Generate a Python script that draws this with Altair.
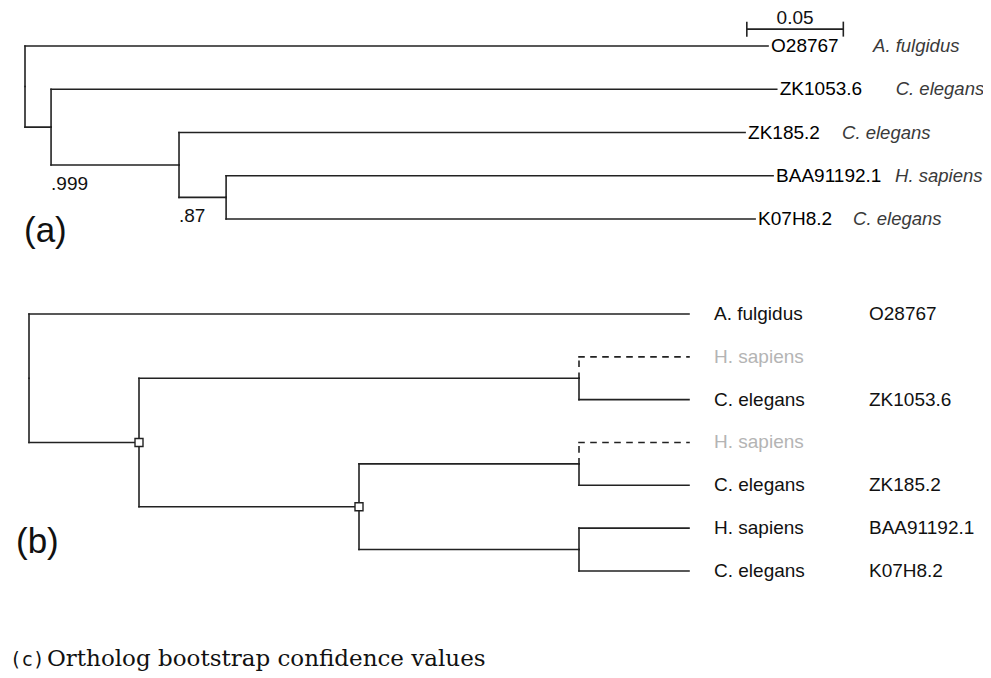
import altair as alt
import pandas as pd

# ---------------- data ----------------
# (a) phylogram: edges with branch lengths (substitutions per site)
a_parent = ["root", "root", "n1", "n1", "n2", "n2", "n3", "n3"]
a_child = ["O28767", "n1", "ZK1053.6", "n2", "ZK185.2", "n3", "BAA91192.1", "K07H8.2"]
a_length = [0.385, 0.0135, 0.376, 0.0663, 0.2933, 0.0244, 0.2834, 0.2741]
a_leaf_ids = ["O28767", "ZK1053.6", "ZK185.2", "BAA91192.1", "K07H8.2"]
a_leaf_species = ["A. fulgidus", "C. elegans", "C. elegans", "H. sapiens", "C. elegans"]
a_boot_nodes = ["n1", "n2"]
a_boot_values = [".999", ".87"]
a_scale_bar = 0.05

# (b) reconciled cladogram (depth in cladogram levels)
b_parent = ["root", "root", "A", "A", "D1", "D1", "B", "B", "D2", "D2", "D3", "D3"]
b_child = ["L0", "A", "D1", "B", "L1", "L2", "D2", "D3", "L3", "L4", "L5", "L6"]
b_inner_nodes = ["root", "A", "B", "D1", "D2", "D3"]
b_inner_depth = [0, 1, 3, 5, 5, 5]
b_leaves = ["L0", "L1", "L2", "L3", "L4", "L5", "L6"]
b_leaf_depth = 6
b_leaf_species = ["A. fulgidus", "H. sapiens", "C. elegans", "H. sapiens", "C. elegans", "H. sapiens", "C. elegans"]
b_leaf_ids = ["O28767", "", "ZK1053.6", "", "ZK185.2", "BAA91192.1", "K07H8.2"]
b_leaf_inferred = [False, True, False, True, False, False, False]
b_dup_nodes = ["A", "B"]

caption_tag = "(c)"
caption_text = "Ortholog bootstrap confidence values"

# ---------------- layout / style ----------------
W = 975
HA, HB, HC = 260, 340, 64
PX_PER_UNIT_A = 1930.0
ROOT_X_A = 17.0
ROW_A, ROW0_A = 43.25, 38.0
PX_PER_LEVEL_B = 110.0
ROOT_X_B = 21.0
ROW_B, ROW0_B = 42.83, 46.0
a_species_gap_px = [105, 119, 97, 122, 98]
a_scale_bar_x = 0.374
a_scale_bar_row = -0.39
LINE = "#222222"
SANS = "Liberation Sans"
FS = 19


def tree_layout(parents, children, depth, leaves):
    kids = {}
    for p, c in zip(parents, children):
        kids.setdefault(p, []).append(c)
    ypos = {leaf: i for i, leaf in enumerate(leaves)}

    def gy(n):
        if n not in ypos:
            ys = [gy(k) for k in kids[n]]
            ypos[n] = (min(ys) + max(ys)) / 2.0
        return ypos[n]

    for p in parents:
        gy(p)
    return ypos


def segments(parents, children, depth, ypos, dashed_set):
    rows = []
    for p, c in zip(parents, children):
        style = "dashed" if c in dashed_set else "solid"
        rows.append(dict(x=depth[p], x2=depth[p], y=ypos[p], y2=ypos[c], style=style))
        rows.append(dict(x=depth[p], x2=depth[c], y=ypos[c], y2=ypos[c], style=style))
    return pd.DataFrame(rows)


# ---- panel (a) computations
a_depth = {"root": 0.0}
for p, c, l in zip(a_parent, a_child, a_length):
    a_depth[c] = a_depth[p] + l
a_y = tree_layout(a_parent, a_child, a_depth, a_leaf_ids)
a_seg = segments(a_parent, a_child, a_depth, a_y, set())

a_leaf_df = pd.DataFrame({
    "id": a_leaf_ids,
    "species": a_leaf_species,
    "x": [a_depth[n] for n in a_leaf_ids],
    "xs": [a_depth[n] + g / PX_PER_UNIT_A for n, g in zip(a_leaf_ids, a_species_gap_px)],
    "y": [a_y[n] for n in a_leaf_ids],
})
# bootstrap label placed under the lower child branch of each node
a_kids = {}
for p, c in zip(a_parent, a_child):
    a_kids.setdefault(p, []).append(c)
a_boot_df = pd.DataFrame({
    "label": a_boot_values,
    "x": [a_depth[n] for n in a_boot_nodes],
    "y": [max(a_y[k] for k in a_kids[n]) for n in a_boot_nodes],
})
half_tick = 7.5 / ROW_A
a_bar_df = pd.DataFrame([
    dict(x=a_scale_bar_x, x2=a_scale_bar_x + a_scale_bar, y=a_scale_bar_row, y2=a_scale_bar_row),
    dict(x=a_scale_bar_x, x2=a_scale_bar_x, y=a_scale_bar_row - half_tick, y2=a_scale_bar_row + half_tick),
    dict(x=a_scale_bar_x + a_scale_bar, x2=a_scale_bar_x + a_scale_bar,
         y=a_scale_bar_row - half_tick, y2=a_scale_bar_row + half_tick),
])
a_bar_text = pd.DataFrame({"label": [str(a_scale_bar)], "x": [a_scale_bar_x + a_scale_bar / 2],
                           "y": [a_scale_bar_row]})

xsA = alt.Scale(domain=[-ROOT_X_A / PX_PER_UNIT_A, (W - ROOT_X_A) / PX_PER_UNIT_A], nice=False, zero=False)
ysA = alt.Scale(domain=[-ROW0_A / ROW_A, (HA - ROW0_A) / ROW_A], nice=False, zero=False, reverse=True)

dash_scale = alt.Scale(domain=["solid", "dashed"], range=[[1, 0], [5, 7]])


def seg_layer(df, xs, ys):
    return alt.Chart(df).mark_rule(strokeWidth=1.6, color=LINE, strokeCap="square").encode(
        x=alt.X("x:Q", scale=xs, axis=None), x2="x2:Q",
        y=alt.Y("y:Q", scale=ys, axis=None), y2="y2:Q",
        strokeDash=alt.StrokeDash("style:N", scale=dash_scale, legend=None),
    )


def text_mark(**kw):
    base = dict(align="left", baseline="middle", font=SANS, fontSize=FS, clip=True)
    base.update(kw)
    return base


a_lines = seg_layer(a_seg, xsA, ysA)
a_ids = alt.Chart(a_leaf_df).mark_text(**text_mark(dx=3, color="#000")).encode(
    x=alt.X("x:Q", scale=xsA, axis=None), y=alt.Y("y:Q", scale=ysA, axis=None), text="id:N")
a_spec = alt.Chart(a_leaf_df).mark_text(**text_mark(fontSize=18.5, fontStyle="italic", color="#3a3a3a")).encode(
    x=alt.X("xs:Q", scale=xsA, axis=None), y=alt.Y("y:Q", scale=ysA, axis=None), text="species:N")
a_boot = alt.Chart(a_boot_df).mark_text(**text_mark(dy=19, color="#111")).encode(
    x=alt.X("x:Q", scale=xsA, axis=None), y=alt.Y("y:Q", scale=ysA, axis=None), text="label:N")
a_bar = alt.Chart(a_bar_df).mark_rule(strokeWidth=1.6, color=LINE).encode(
    x=alt.X("x:Q", scale=xsA, axis=None), x2="x2:Q",
    y=alt.Y("y:Q", scale=ysA, axis=None), y2="y2:Q")
a_bar_lbl = alt.Chart(a_bar_text).mark_text(**text_mark(align="center", dy=-11, color="#111")).encode(
    x=alt.X("x:Q", scale=xsA, axis=None), y=alt.Y("y:Q", scale=ysA, axis=None), text="label:N")
a_tag = alt.Chart(pd.DataFrame({"t": ["(a)"]})).mark_text(**text_mark(fontSize=35, color="#111")).encode(
    x=alt.value(16), y=alt.value(223), text="t:N")

panel_a = alt.layer(a_lines, a_bar, a_ids, a_spec, a_boot, a_bar_lbl, a_tag).properties(width=W, height=HA)

# ---- panel (b) computations
b_depth = dict(zip(b_inner_nodes, b_inner_depth))
for leaf in b_leaves:
    b_depth[leaf] = b_leaf_depth
b_y = tree_layout(b_parent, b_child, b_depth, b_leaves)
b_dashed = {l for l, inf in zip(b_leaves, b_leaf_inferred) if inf}
b_seg = segments(b_parent, b_child, b_depth, b_y, b_dashed)
b_leaf_df = pd.DataFrame({
    "species": b_leaf_species,
    "id": b_leaf_ids,
    "status": ["inferred" if i else "observed" for i in b_leaf_inferred],
    "x": [b_depth[l] for l in b_leaves],
    "y": [b_y[l] for l in b_leaves],
})
b_dup_df = pd.DataFrame({"x": [b_depth[n] for n in b_dup_nodes], "y": [b_y[n] for n in b_dup_nodes]})

xsB = alt.Scale(domain=[-ROOT_X_B / PX_PER_LEVEL_B, (W - ROOT_X_B) / PX_PER_LEVEL_B], nice=False, zero=False)
ysB = alt.Scale(domain=[-ROW0_B / ROW_B, (HB - ROW0_B) / ROW_B], nice=False, zero=False, reverse=True)
status_color = alt.Scale(domain=["observed", "inferred"], range=["#111111", "#b4b4b4"])

b_lines = seg_layer(b_seg, xsB, ysB)
b_spec = alt.Chart(b_leaf_df).mark_text(**text_mark(dx=25)).encode(
    x=alt.X("x:Q", scale=xsB, axis=None), y=alt.Y("y:Q", scale=ysB, axis=None), text="species:N",
    color=alt.Color("status:N", scale=status_color, legend=None))
b_ids = alt.Chart(b_leaf_df).mark_text(**text_mark(dx=180, color="#111")).encode(
    x=alt.X("x:Q", scale=xsB, axis=None), y=alt.Y("y:Q", scale=ysB, axis=None), text="id:N")
b_sq = alt.Chart(b_dup_df).mark_point(shape="square", size=64, filled=True, fill="white",
                                      stroke=LINE, strokeWidth=1.4, opacity=1).encode(
    x=alt.X("x:Q", scale=xsB, axis=None), y=alt.Y("y:Q", scale=ysB, axis=None))
b_tag = alt.Chart(pd.DataFrame({"t": ["(b)"]})).mark_text(**text_mark(fontSize=35, color="#111")).encode(
    x=alt.value(8), y=alt.value(274), text="t:N")

panel_b = alt.layer(b_lines, b_sq, b_spec, b_ids, b_tag).properties(width=W, height=HB)

# ---- panel (c)
c_tag = alt.Chart(pd.DataFrame({"t": [caption_tag]})).mark_text(
    align="left", baseline="alphabetic", font="DejaVu Sans Mono", fontSize=19, color="#111"
).encode(x=alt.value(2), y=alt.value(HC - 6), text="t:N")
c_txt = alt.Chart(pd.DataFrame({"t": [caption_text]})).mark_text(
    align="left", baseline="alphabetic", font="DejaVu Serif", fontSize=23, color="#111"
).encode(x=alt.value(39), y=alt.value(HC - 6), text="t:N")
panel_c = alt.layer(c_tag, c_txt).properties(width=W, height=HC)

chart = alt.vconcat(panel_a, panel_b, panel_c, spacing=0, bounds="flush").properties(
    padding=0, background="white"
).configure_view(stroke=None)

chart.save("out.html", embed_options={"renderer": "svg", "actions": False})
